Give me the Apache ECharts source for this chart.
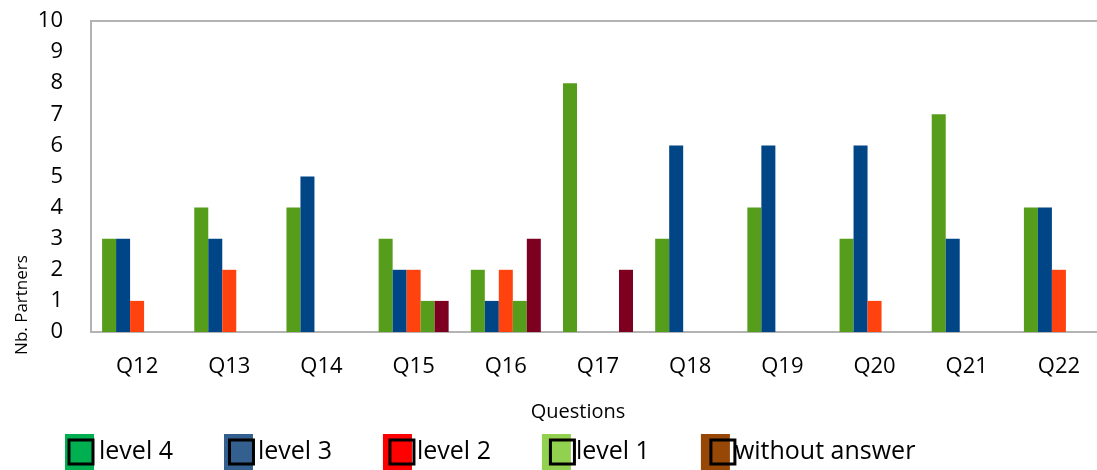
<!DOCTYPE html>
<html>
<head>
<meta charset="utf-8">
<script src="https://cdn.jsdelivr.net/npm/echarts@6/dist/echarts.min.js"></script>
<style>
  html, body { margin: 0; padding: 0; background: #fff; overflow: hidden; }
  /* a bit wider than the window: the plot runs past the right edge like the original */
  #myChart { width: 1105px; height: 470px; }
</style>
</head>
<body>
<div id="myChart"></div>
<script>
// data
let questions = ["Q12","Q13","Q14","Q15","Q16","Q17","Q18","Q19","Q20","Q21","Q22"]
let level4 = [3,4,4,3,2,8,3,4,3,7,4]
let level3 = [3,3,5,2,1,0,6,6,6,3,4]
let level2 = [1,2,0,2,2,0,0,0,1,0,2]
let level1 = [0,0,0,1,1,0,0,0,0,0,0]
let noAnswer = [0,0,0,1,3,2,0,0,0,0,0]
let yTicks = [0,10,1]   // min, max, step

let names = ["level 4","level 3","level 2","level 1","without answer"]
let barColors = ["#579d1c","#004586","#ff420e","#579d1c","#7e0021"]
let legendColors = ["#00b050","#34608f","#ff0000","#92d050","#974706"]
let values = [level4, level3, level2, level1, noAnswer]

var myChart = echarts.init(document.getElementById('myChart'));

let series = []
for (let i = 0; i < names.length; i++) {
    series.push({
        name: names[i],
        type: 'bar',
        data: values[i],
        barWidth: 14,
        barGap: '0%',
        itemStyle: { color: barColors[i] }
    })
}

var option = {
    animation: false,
    textStyle: { fontFamily: 'Open Sans' },
    grid: {
        left: 91, right: 0, top: 21, bottom: 138,
        show: true, borderColor: '#b3b3b3', borderWidth: 2
    },
    xAxis: {
        type: 'category',
        data: questions,
        axisLine: { show: false },
        axisTick: { show: false },
        axisLabel: { color: '#000', fontSize: 22, margin: 24 },
        name: 'Questions',
        nameLocation: 'middle',
        nameGap: 70,
        nameTextStyle: { color: '#000', fontSize: 20, padding: [0, 40, 0, 0] }
    },
    yAxis: {
        type: 'value',
        min: yTicks[0], max: yTicks[1], interval: yTicks[2],
        axisLine: { show: false },
        axisTick: { show: false },
        splitLine: { show: false },
        axisLabel: { color: '#000', fontSize: 22, margin: 28 }
    },
    legend: [
        {
            // coloured blocks + text
            left: 65, top: 434, padding: 0,
            icon: 'rect',
            itemWidth: 29, itemHeight: 36, itemGap: 51,
            textStyle: { color: '#000', fontSize: 25, fontFamily: 'Open Sans' },
            data: names.map((n, i) => ({ name: n, itemStyle: { color: legendColors[i] } }))
        },
        {
            // black framed squares on top of the blocks
            left: 67.5, top: 438.5, padding: 0, z: 6,
            icon: 'rect',
            itemWidth: 24, itemHeight: 24, itemGap: 56,
            textStyle: { color: 'rgba(0,0,0,0)', fontSize: 25, fontFamily: 'Open Sans' },
            data: names.map(n => ({
                name: n,
                itemStyle: { color: 'rgba(0,0,0,0)', borderColor: '#000', borderWidth: 3 }
            }))
        }
    ],
    graphic: [
        {
            type: 'text',
            x: 22, y: 305,
            rotation: Math.PI / 2,
            style: {
                text: 'Nb. Partners',
                fill: '#000',
                font: '17px "Open Sans"',
                align: 'center',
                verticalAlign: 'middle'
            }
        }
    ],
    series: series
};

myChart.setOption(option);
</script>
</body>
</html>
